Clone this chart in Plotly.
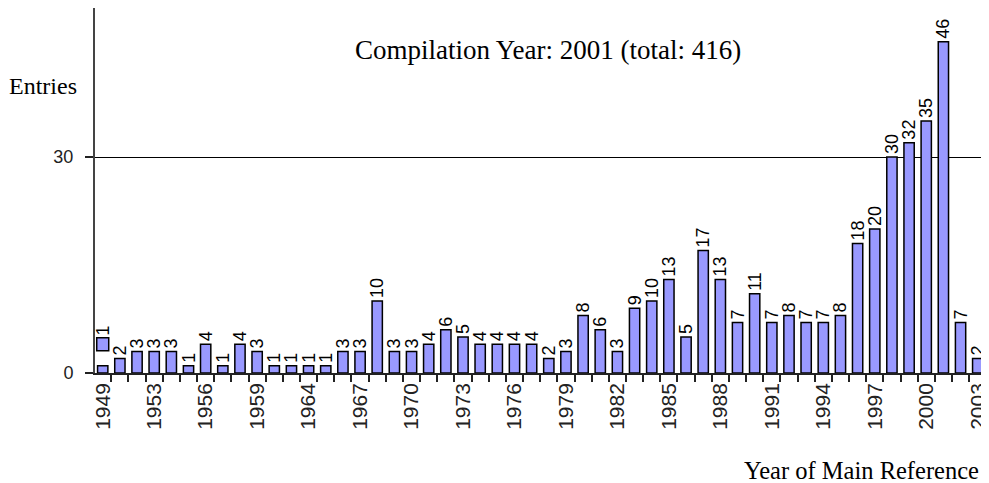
import plotly.graph_objects as go

years = ["1949", "1950", "1952", "1953", "1954", "1955", "1956", "1957", "1958", "1959",
         "1960", "1962", "1964", "1965", "1966", "1967", "1968", "1969", "1970", "1971",
         "1972", "1973", "1974", "1975", "1976", "1977", "1978", "1979", "1980", "1981",
         "1982", "1983", "1984", "1985", "1986", "1987", "1988", "1989", "1990", "1991",
         "1992", "1993", "1994", "1995", "1996", "1997", "1998", "1999", "2000", "2001",
         "2002", "2003"]
entries = [1, 2, 3, 3, 3, 1, 4, 1, 4, 3,
           1, 1, 1, 1, 3, 3, 10, 3, 3, 4,
           6, 5, 4, 4, 4, 4, 2, 3, 8, 6,
           3, 9, 10, 13, 5, 17, 13, 7, 11, 7,
           8, 7, 7, 8, 18, 20, 30, 32, 35, 46,
           7, 2]
shown_years = {"1949", "1953", "1956", "1959", "1964", "1967", "1970", "1973", "1976",
               "1979", "1982", "1985", "1988", "1991", "1994", "1997", "2000", "2003"}
y_ticks = [0, 30]
title_text = "Compilation Year: 2001 (total: 416)"

bar_text = [str(v) for v in entries]
bar_text[0] = ""
tick_text = [y if y in shown_years else "" for y in years]

BAR = "#9999ff"
SANS = "Liberation Sans, Arial, sans-serif"
SERIF = "Liberation Serif, Times New Roman, serif"

fig = go.Figure()
fig.add_trace(go.Bar(
    x=years, y=entries, width=0.6,
    marker=dict(color=BAR, line=dict(color="black", width=1.5)),
    text=bar_text, textposition="outside", textangle=-90,
    constraintext="none", cliponaxis=False,
    textfont=dict(family=SANS, size=18, color="black"),
    hoverinfo="x+y",
))

# small marker box drawn over the first category in the original
fig.add_shape(type="rect", xref="x", yref="y", x0=-0.35, x1=0.35, y0=3.1, y1=4.9,
              fillcolor=BAR, line=dict(color="black", width=1.5))
fig.add_annotation(x=0, y=4.9, xref="x", yref="y", text=str(entries[0]),
                   textangle=-90, yanchor="bottom", showarrow=False,
                   font=dict(family=SANS, size=18, color="black"))

fig.add_annotation(text=title_text, xref="paper", yref="paper", x=0.511, y=0.885,
                   xanchor="center", yanchor="middle", showarrow=False,
                   font=dict(family=SERIF, size=27, color="black"))
fig.add_annotation(text="Entries", xref="paper", yref="paper", x=-0.0995, y=0.786,
                   xanchor="left", yanchor="middle", showarrow=False,
                   font=dict(family=SERIF, size=24, color="black"))
fig.add_annotation(text="Year of Main Reference", xref="paper", yref="paper", x=0.999, y=-0.266,
                   xanchor="right", yanchor="middle", showarrow=False,
                   font=dict(family=SERIF, size=24.5, color="black"))

fig.update_layout(
    width=981, height=475,
    margin=dict(l=87, r=0, t=0, b=110, pad=0),
    paper_bgcolor="white", plot_bgcolor="white",
    showlegend=False, bargap=0.4,
)
fig.update_xaxes(
    type="category", range=[-0.45, 51.25],
    tickmode="array", tickvals=years, ticktext=tick_text,
    tickson="boundaries", ticks="outside", ticklen=7, tickwidth=1.5, tickcolor="#222",
    tickangle=-90, tickfont=dict(family=SANS, size=21, color="#222"),
    showline=True, linecolor="#222", linewidth=1.5, showgrid=False,
)
fig.update_yaxes(
    range=[0, 50.7], tickmode="array", tickvals=y_ticks,
    ticks="outside", ticklen=8, tickwidth=1.5, tickcolor="#222",
    tickfont=dict(family=SANS, size=18, color="#222"),
    ticklabelstandoff=8,
    showline=True, linecolor="#444", linewidth=2,
    showgrid=True, gridcolor="black", gridwidth=1.2, zeroline=False,
)

fig.write_html("out.html")
